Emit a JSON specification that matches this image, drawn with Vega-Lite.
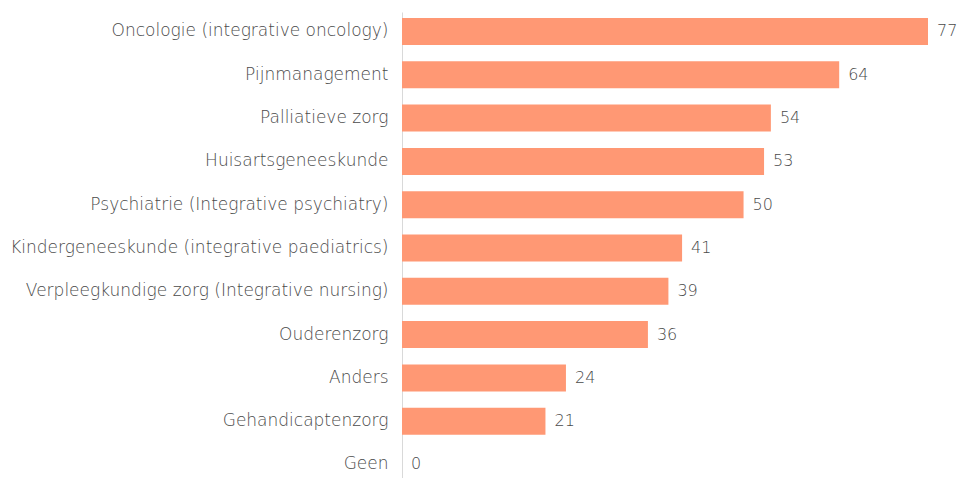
{
  "$schema": "https://vega.github.io/schema/vega-lite/v6.json",
  "width": 526,
  "height": 466,
  "autosize": "none",
  "padding": {"left": 402, "top": 12, "right": 30, "bottom": 0},
  "background": "white",
  "config": {"view": {"stroke": null}, "font": "DejaVu Sans"},
  "data": {"values": [
    {"cat": "Oncologie (integrative oncology)", "val": 77},
    {"cat": "Pijnmanagement", "val": 64},
    {"cat": "Palliatieve zorg", "val": 54},
    {"cat": "Huisartsgeneeskunde", "val": 53},
    {"cat": "Psychiatrie (Integrative psychiatry)", "val": 50},
    {"cat": "Kindergeneeskunde (integrative paediatrics)", "val": 41},
    {"cat": "Verpleegkundige zorg (Integrative nursing)", "val": 39},
    {"cat": "Ouderenzorg", "val": 36},
    {"cat": "Anders", "val": 24},
    {"cat": "Gehandicaptenzorg", "val": 21},
    {"cat": "Geen", "val": 0}
  ]},
  "encoding": {
    "y": {"field": "cat", "type": "nominal", "sort": null,
      "scale": {"paddingInner": 0.376, "paddingOuter": 0.069, "align": 1},
      "axis": {"title": null, "ticks": false, "domainColor": "#D9D9D9", "domainWidth": 1,
        "labelFontSize": 17, "labelColor": "#4a4a4a", "labelPadding": 14, "labelFont": "DejaVu Sans", "labelFontWeight": 300, "labelLimit": 500}},
    "x": {"field": "val", "type": "quantitative", "scale": {"domain": [0, 77], "nice": false, "zero": true}, "axis": null}
  },
  "layer": [
    {"mark": {"type": "bar", "color": "#FF9874"}},
    {"mark": {"type": "text", "align": "left", "dx": 9, "fontSize": 16, "color": "#4a4a4a", "font": "DejaVu Sans", "fontWeight": 300},
     "encoding": {"text": {"field": "val", "type": "quantitative"}}}
  ]
}
